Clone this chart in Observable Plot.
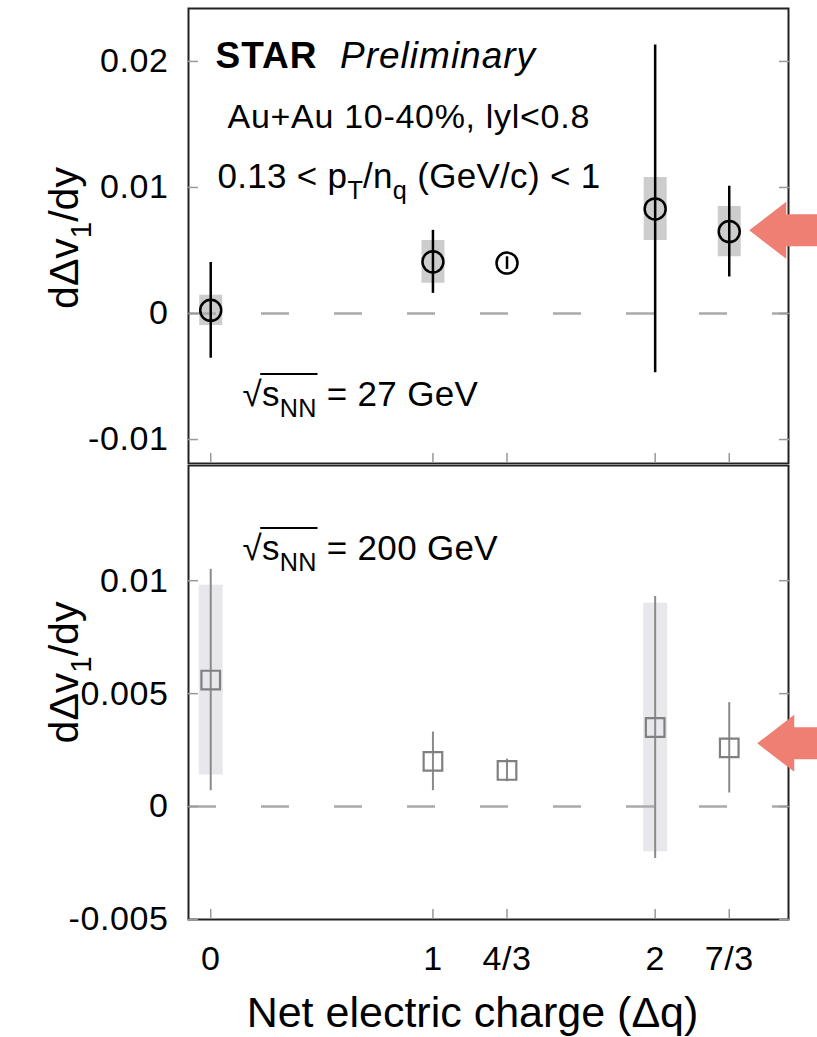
<!DOCTYPE html>
<html>
<head>
<meta charset="utf-8">
<script src="https://cdn.jsdelivr.net/npm/d3@7"></script>
<script src="https://cdn.jsdelivr.net/npm/@observablehq/plot@0.6"></script>
<style>
  html, body { margin: 0; padding: 0; background: white; }
  #chart svg { display: block; }
  #chart g[aria-label="y-axis tick label"] text,
  #chart g[aria-label="x-axis tick label"] text { letter-spacing: 0.6px; }
</style>
</head>
<body>
<div id="chart"></div>
<script>
// ---------- data ----------
const charges = [0, 1, 4/3, 2, 7/3];
const chargeLabels = ["0", "1", "4/3", "2", "7/3"];

// 27 GeV (top panel)
const v27    = [0.00025, 0.0041, 0.0040, 0.0083, 0.0065];
const stat27 = [0.0038, 0.0025, 0.0005, 0.0130, 0.0036];
const sys27  = [0.0012, 0.0017, 0, 0.0025, 0.0020];

// 200 GeV (bottom panel)
const v200    = [0.0056, 0.0020, 0.0016, 0.0035, 0.0026];
const stat200 = [0.0049, 0.0013, 0.0005, 0.0058, 0.0020];
const sys200  = [0.0042, 0, 0, 0.0055, 0];

const yTicks27 = [-0.01, 0, 0.01, 0.02];
const yLabels27 = ["-0.01", "0", "0.01", "0.02"];
const yTicks200 = [-0.005, 0, 0.005, 0.01];
const yLabels200 = ["-0.005", "0", "0.005", "0.01"];

const arrowLevel27 = [0.0066];
const arrowLevel200 = [0.0028];

// ---------- helpers ----------
const FONT = "Liberation Sans, Arial, Helvetica, sans-serif";
const mkRows = (v, stat, sys) => charges.map((q, i) => ({q, v: v[i], stat: stat[i], sys: sys[i]}));
const rowsTop = mkRows(v27, stat27, sys27);
const rowsBot = mkRows(v200, stat200, sys200);

const arrowSymbol = {
  draw(ctx) {
    ctx.moveTo(0, 0);
    ctx.lineTo(37, -28.5);
    ctx.lineTo(37, -16);
    ctx.lineTo(90, -16);
    ctx.lineTo(90, 16);
    ctx.lineTo(37, 16);
    ctx.lineTo(37, 28.5);
    ctx.closePath();
  }
};

function axesMarks(ticks, labels) {
  return [
    Plot.axisY(ticks, {anchor: "left", tickSize: 10, dx: 10, tickPadding: 20, fontSize: 34,
      stroke: "#999", strokeWidth: 1.5, fill: "black", tickFormat: d => labels[ticks.indexOf(d)], label: null}),
    Plot.axisY(ticks, {anchor: "right", tickSize: 10, dx: -10, stroke: "#999", strokeWidth: 1.5,
      tickFormat: () => "", label: null}),
    Plot.axisX(charges, {anchor: "bottom", tickSize: 10, dy: -10, stroke: "#999", strokeWidth: 1.5,
      tickFormat: () => "", label: null})
  ];
}

const txt = (key, s, opts) => Plot.text([s], {text: d => d, textAnchor: "start", lineAnchor: "bottom", fill: "black", ariaDescription: key, ...opts});

const plotTop = Plot.plot({
  width: 817, height: 464,
  marginLeft: 188, marginRight: 29, marginTop: 8, marginBottom: 1,
  x: {domain: [-0.1, 2.6]},
  y: {domain: [-0.0119, 0.0242]},
  style: {fontFamily: FONT, background: "white"},
  marks: [
    Plot.ruleX(rowsTop.filter(d => d.sys > 0), {x: "q", y1: d => d.v - d.sys, y2: d => d.v + d.sys, stroke: "#cdcdcd", strokeWidth: 23}),
    Plot.ruleY([0], {stroke: "#aaa", strokeWidth: 2.5, strokeDasharray: "28,45"}),
    Plot.ruleX(rowsTop, {x: "q", y1: d => d.v - d.stat, y2: d => d.v + d.stat, stroke: "black", strokeWidth: 2.5}),
    Plot.dot(rowsTop, {x: "q", y: "v", r: 10.5, stroke: "black", strokeWidth: 2.5, fill: "none"}),
    Plot.frame({stroke: "#222", strokeWidth: 2}),
    ...axesMarks(yTicks27, yLabels27),
    txt("star", "STAR Preliminary", {frameAnchor: "top-left", dx: 27, dy: 59, fontSize: 37}),
    txt("auau", "Au+Au 10-40%, lyl<0.8", {frameAnchor: "top-left", dx: 39, dy: 119, fontSize: 34}),
    txt("pt", "0.13 < pT/nq (GeV/c) < 1", {frameAnchor: "top-left", dx: 29, dy: 179, fontSize: 35}),
    txt("s27", "√sNN = 27 GeV", {frameAnchor: "top-left", dx: 54, dy: 397, fontSize: 35}),
    txt("ylab", "dΔv1/dy", {frameAnchor: "left", dx: -111, dy: 2, rotate: -90, textAnchor: "middle", fontSize: 41}),
    Plot.dot(arrowLevel27, {x: () => charges[4], y: d => d, dx: 20, symbol: arrowSymbol, fill: "#ef7f73", stroke: "none", r: 10})
  ]
});

const plotBot = Plot.plot({
  width: 817, height: 573,
  marginLeft: 188, marginRight: 29, marginTop: 1, marginBottom: 118,
  x: {domain: [-0.1, 2.6]},
  y: {domain: [-0.005, 0.0151]},
  style: {fontFamily: FONT, background: "white"},
  marks: [
    Plot.ruleX(rowsBot.filter(d => d.sys > 0), {x: "q", y1: d => d.v - d.sys, y2: d => d.v + d.sys, stroke: "#e8e8ec", strokeWidth: 24}),
    Plot.ruleY([0], {stroke: "#aaa", strokeWidth: 2.5, strokeDasharray: "28,45"}),
    Plot.ruleX(rowsBot, {x: "q", y1: d => d.v - d.stat, y2: d => d.v + d.stat, stroke: "#8a8a8a", strokeWidth: 2}),
    Plot.dot(rowsBot, {x: "q", y: "v", symbol: "square", r: 10.5, stroke: "#808080", strokeWidth: 2.2, fill: "none"}),
    Plot.frame({stroke: "#222", strokeWidth: 2}),
    ...axesMarks(yTicks200, yLabels200),
    Plot.axisX(charges, {anchor: "bottom", tickSize: 0, tickPadding: 26, fontSize: 34, fill: "black",
      tickFormat: d => chargeLabels[charges.indexOf(d)], label: null}),
    txt("xlab", "Net electric charge (Δq)", {frameAnchor: "bottom", dx: -16, dy: 107, textAnchor: "middle", fontSize: 43}),
    txt("s200", "√sNN = 200 GeV", {frameAnchor: "top-left", dx: 54, dy: 94, fontSize: 35}),
    txt("ylab", "dΔv1/dy", {frameAnchor: "left", dx: -111, dy: -20, rotate: -90, textAnchor: "middle", fontSize: 41}),
    Plot.dot(arrowLevel200, {x: () => charges[4], y: d => d, dx: 28, symbol: arrowSymbol, fill: "#ef7f73", stroke: "none", r: 10})
  ]
});

const chart = document.getElementById("chart");
chart.appendChild(plotTop);
chart.appendChild(plotBot);

// ---------- rich text (sub-scripts, bold/italic, overline) ----------
const NS = "http://www.w3.org/2000/svg";
function rich(svg, key, segs, fs, ls = 0) {
  svg.querySelectorAll(`g[aria-description="${key}"] text`).forEach(t => {
    t.textContent = "";
    if (ls) t.setAttribute("letter-spacing", ls);
    let shift = 0;
    for (const s of segs) {
      const ts = document.createElementNS(NS, "tspan");
      const target = s.sub ? fs * 0.33 : 0;
      ts.setAttribute("dy", target - shift);
      shift = target;
      ts.setAttribute("font-size", s.sub ? fs * 0.72 : fs);
      if (s.bold) ts.setAttribute("font-weight", "bold");
      if (s.italic) ts.setAttribute("font-style", "italic");
      ts.textContent = s.t;
      t.appendChild(ts);
    }
    const oi = segs.findIndex(s => s.root);
    if (oi >= 0) {
      const e0 = t.getExtentOfChar(0);
      let n = 0; for (let k = 0; k <= oi + 2; k++) n += segs[k].t.length;
      const e1 = t.getExtentOfChar(n - 1);
      const line = document.createElementNS(NS, "line");
      const y = -0.9 * fs;
      line.setAttribute("x1", e0.x + e0.width - 1.5 - ls);
      line.setAttribute("x2", e1.x + e1.width + 1 - ls);
      line.setAttribute("y1", y);
      line.setAttribute("y2", y);
      line.setAttribute("stroke", "black");
      line.setAttribute("stroke-width", 2);
      if (t.getAttribute("transform")) line.setAttribute("transform", t.getAttribute("transform"));
      t.parentNode.appendChild(line);
    }
  });
}
rich(plotTop, "star", [{t: "STAR", bold: true}, {t: "  "}, {t: "Preliminary", italic: true}], 37, 1);
rich(plotTop, "auau", [{t: "Au+Au 10-40%, lyl<0.8"}], 34, 0.7);
rich(plotTop, "pt", [{t: "0.13 < p"}, {t: "T", sub: true}, {t: "/n"}, {t: "q", sub: true}, {t: " (GeV/c) < 1"}], 35, 0.3);
rich(plotTop, "s27", [{t: "√", root: true}, {t: "s"}, {t: "NN", sub: true}, {t: " = 27 GeV"}], 35, 0.3);
rich(plotBot, "s200", [{t: "√", root: true}, {t: "s"}, {t: "NN", sub: true}, {t: " = 200 GeV"}], 35, 0.3);
rich(plotTop, "ylab", [{t: "dΔv"}, {t: "1", sub: true}, {t: "/dy"}], 41);
rich(plotBot, "ylab", [{t: "dΔv"}, {t: "1", sub: true}, {t: "/dy"}], 41);
rich(plotBot, "xlab", [{t: "Net electric charge (Δq)"}], 43);
</script>
</body>
</html>
